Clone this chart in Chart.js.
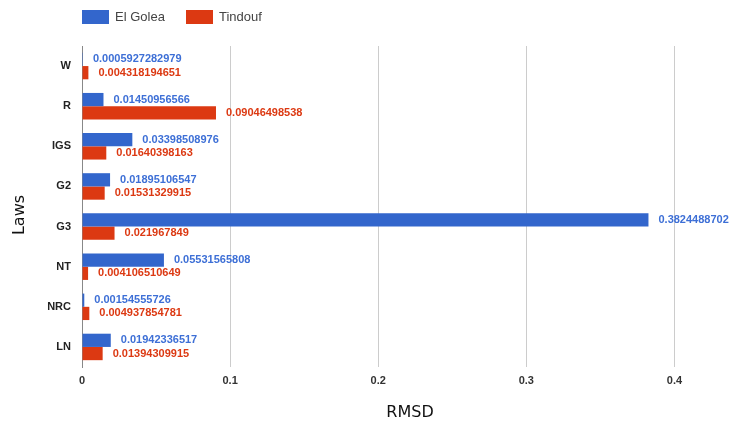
<!DOCTYPE html>
<html>
<head>
<meta charset="utf-8">
<script src="https://cdn.jsdelivr.net/npm/chart.js@4"></script>
<style>
  html, body { margin: 0; padding: 0; background: #fff; }
  #wrap { width: 730px; height: 423px; }
</style>
</head>
<body>
<div id="wrap"><canvas id="chart" width="730" height="423"></canvas></div>
<script>
const laws = ['W', 'R', 'IGS', 'G2', 'G3', 'NT', 'NRC', 'LN'];
const elGolea = [0.0005927282979, 0.01450956566, 0.03398508976, 0.01895106547,
  0.3824488702, 0.05531565808, 0.00154555726, 0.01942336517];
const tindouf = [0.004318194651, 0.09046498538, 0.01640398163, 0.01531329915,
  0.021967849, 0.004106510649, 0.004937854781, 0.01394309915];
const xTicks = [0, 0.1, 0.2, 0.3, 0.4];

const BLUE = '#3366cc';
const RED = '#dc3912';
const FONT = '"Liberation Sans", Arial, sans-serif';

// value labels next to each bar, plus legend and axis titles
const extras = {
  id: 'extras',
  afterDatasetsDraw(chart) {
    const ctx = chart.ctx;
    ctx.save();
    ctx.font = 'bold 11px ' + FONT;
    ctx.textAlign = 'left';
    ctx.textBaseline = 'middle';
    chart.data.datasets.forEach((ds, i) => {
      chart.getDatasetMeta(i).data.forEach((bar, j) => {
        ctx.fillStyle = ds.labelColor;
        ctx.fillText(String(ds.data[j]), bar.x + 10, bar.y);
      });
    });

    // legend
    ctx.font = '13px ' + FONT;
    ctx.fillStyle = BLUE;
    ctx.fillRect(82, 10, 27, 14);
    ctx.fillStyle = '#444';
    ctx.fillText('El Golea', 115, 17.5);
    ctx.fillStyle = RED;
    ctx.fillRect(186, 10, 27, 14);
    ctx.fillStyle = '#444';
    ctx.fillText('Tindouf', 219, 17.5);

    // axis titles
    ctx.font = '16px "DejaVu Sans", sans-serif';
    ctx.fillStyle = '#111';
    ctx.textAlign = 'center';
    ctx.fillText('RMSD', 410, 413);
    ctx.translate(20, 215);
    ctx.rotate(-Math.PI / 2);
    ctx.fillText('Laws', 0, 0);
    ctx.restore();
  }
};

new Chart(document.getElementById('chart'), {
  type: 'bar',
  data: {
    labels: laws,
    datasets: [
      { label: 'El Golea', data: elGolea, backgroundColor: BLUE, labelColor: '#3d6fd6',
        categoryPercentage: 0.66, barPercentage: 1.0 },
      { label: 'Tindouf', data: tindouf, backgroundColor: RED, labelColor: RED,
        categoryPercentage: 0.66, barPercentage: 1.0 }
    ]
  },
  options: {
    indexAxis: 'y',
    responsive: false,
    animation: false,
    layout: { padding: { top: 46, left: 0, right: 0, bottom: 0 } },
    scales: {
      x: {
        min: 0,
        max: 0.4375,
        afterBuildTicks: (axis) => { axis.ticks = xTicks.map(v => ({ value: v })); },
        afterFit: (axis) => { axis.height = 56; },
        grid: { color: '#cccccc', drawTicks: false },
        border: { display: false },
        ticks: {
          padding: 7,
          color: '#333',
          font: { family: FONT, size: 11, weight: 'bold' },
          callback: (v) => String(Math.round(v * 10) / 10)
        }
      },
      y: {
        afterFit: (axis) => { axis.width = 82; },
        grid: { display: false, drawTicks: false },
        border: { display: true, color: '#888', width: 1 },
        ticks: {
          padding: 11,
          color: '#222',
          font: { family: FONT, size: 11, weight: 'bold' }
        }
      }
    },
    plugins: {
      legend: { display: false },
      tooltip: { enabled: false }
    }
  },
  plugins: [extras]
});
</script>
</body>
</html>
